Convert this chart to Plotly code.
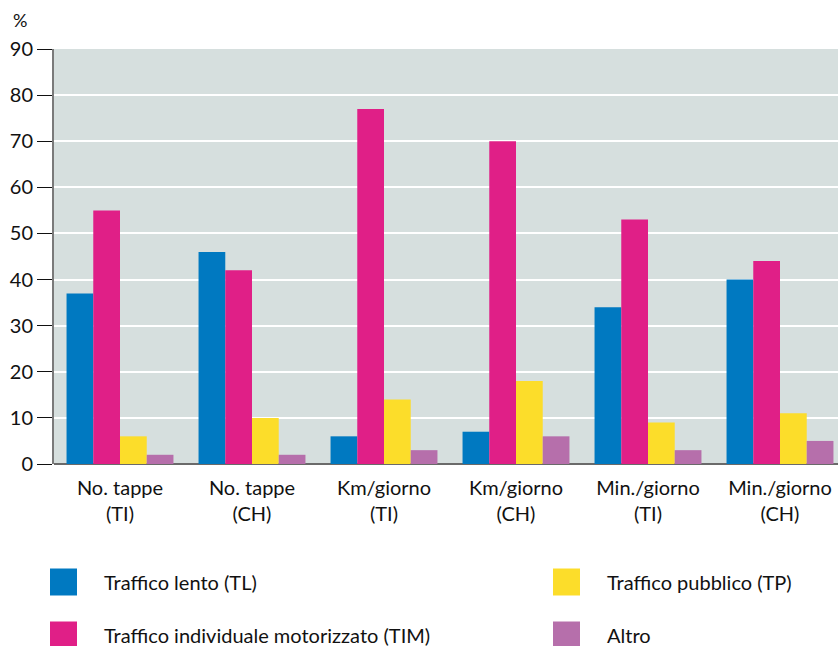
import plotly.graph_objects as go

categories = ["No. tappe<br>(TI)", "No. tappe<br>(CH)", "Km/giorno<br>(TI)",
              "Km/giorno<br>(CH)", "Min./giorno<br>(TI)", "Min./giorno<br>(CH)"]
series_names = ["Traffico lento (TL)", "Traffico individuale motorizzato (TIM)",
                "Traffico pubblico (TP)", "Altro"]
tl = [37, 46, 6, 7, 34, 40]
tim = [55, 42, 77, 70, 53, 44]
tp = [6, 10, 14, 18, 9, 11]
altro = [2, 2, 3, 6, 3, 5]
y_ticks = [0, 10, 20, 30, 40, 50, 60, 70, 80, 90]

colors = ["#0079C1", "#E01F87", "#FCDD2A", "#B66FAB"]
series = [tl, tim, tp, altro]
FONT = "Lato, 'Open Sans', sans-serif"

x_idx = list(range(len(categories)))
fig = go.Figure()
for name, vals, c in zip(series_names, series, colors):
    fig.add_trace(go.Bar(x=x_idx, y=vals, name=name, marker_color=c,
                         marker_line_width=0, showlegend=False))

fig.update_layout(
    width=838, height=646,
    margin=dict(l=54, r=0, t=49, b=182),
    paper_bgcolor="white", plot_bgcolor="#D6DFDE",
    barmode="group", bargap=0.19, bargroupgap=0,
    font=dict(family=FONT, size=20, color="#111111"),
    xaxis=dict(tickmode="array", tickvals=x_idx, ticktext=categories,
               range=[-0.5, -0.5 + 784 / 132], showgrid=False, ticks="",
               tickfont=dict(size=20), showline=False, zeroline=False,
               ticklabelstandoff=10),
    yaxis=dict(range=[0, 90], tickvals=y_ticks, showgrid=True, gridcolor="white",
               gridwidth=1.5, ticks="outside", ticklen=15, tickcolor="#111111",
               tickwidth=1, showline=True, linecolor="#7a7a7a", linewidth=2,
               zeroline=True, zerolinecolor="#6a6a6a", zerolinewidth=2,
               tickfont=dict(size=20)),
)

fig.add_annotation(xref="paper", yref="paper", x=(11 - 54) / 784, y=(464 - 20) / 415,
                   text="%", showarrow=False, xanchor="left", yanchor="middle",
                   font=dict(size=18))

# manual legend
pos = [(50, 582), (50, 635), (553, 582), (553, 635)]
for (px, py), name, c in zip(pos, series_names, colors):
    x0 = (px - 54) / 784
    x1 = (px + 27 - 54) / 784
    y0 = (464 - (py + 13.5)) / 415
    y1 = (464 - (py - 13.5)) / 415
    fig.add_shape(type="rect", xref="paper", yref="paper", x0=x0, x1=x1, y0=y0, y1=y1,
                  fillcolor=c, line_width=0)
    fig.add_annotation(xref="paper", yref="paper", x=(px + 52 - 54) / 784,
                       y=(464 - py) / 415, text=name, showarrow=False,
                       xanchor="left", yanchor="middle", font=dict(size=20))

fig.write_html("out.html")
